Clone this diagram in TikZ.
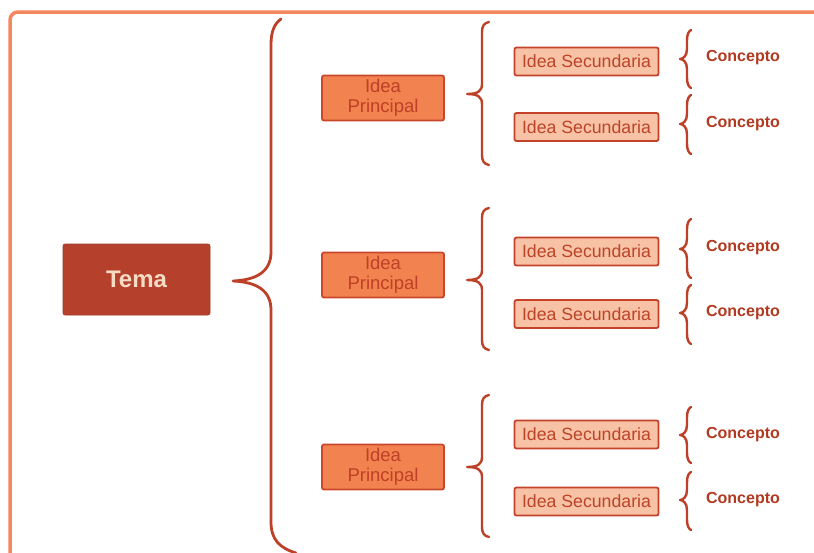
\documentclass[tikz,border=0pt]{standalone}
\usepackage{fontspec}
\setmainfont{Liberation Sans}
\definecolor{frameor}{HTML}{F4875E}
\definecolor{temafill}{HTML}{B5412D}
\definecolor{tematext}{HTML}{F6DCC4}
\definecolor{prinfill}{HTML}{F2824F}
\definecolor{prinline}{HTML}{C9472B}
\definecolor{printext}{HTML}{BF4026}
\definecolor{secfill}{HTML}{F7C2A5}
\definecolor{secline}{HTML}{C4412A}
\definecolor{sectext}{HTML}{BC4429}
\definecolor{bracecol}{HTML}{BD4128}
\definecolor{concol}{HTML}{B23A20}
\newcommand{\mybrace}[6]{% xtip, xline, xend, ytop, ymid, ybot
  \draw[bracestyle] (#3,#4) .. controls ({#2+2},{#4+1}) and (#2,{#4+4}) .. (#2,{#4+10})
    -- (#2,{#5-10}) .. controls (#2,{#5-3}) and ({#2-4},#5) .. (#1,#5)
    .. controls ({#2-4},#5) and (#2,{#5+3}) .. (#2,{#5+10})
    -- (#2,{#6-10}) .. controls (#2,{#6-4}) and ({#2+2},{#6-1}) .. (#3,#6);}
\tikzset{
  bracestyle/.style={draw=bracecol, line width=2.4pt, line cap=round, line join=round},
  temabox/.style={fill=temafill, draw=temafill!90!black, line width=0.6pt, rounded corners=2pt,
    minimum width=147pt, minimum height=71pt, inner sep=0pt,
    text=tematext, font=\fontsize{24}{26}\selectfont\bfseries},
  prinbox/.style={fill=prinfill, draw=prinline, line width=1.8pt, rounded corners=2pt,
    minimum width=122pt, minimum height=45pt, inner sep=0pt, align=center,
    text=printext, font=\fontsize{18.5}{20}\selectfont},
  secbox/.style={fill=secfill, draw=secline, line width=1.8pt, rounded corners=2pt,
    minimum width=144pt, minimum height=28pt, inner sep=0pt,
    text=sectext, font=\fontsize{17.7}{20}\selectfont},
  conbox/.style={text=concol, font=\fontsize{16}{18}\selectfont\bfseries, inner sep=0pt}
}
\begin{document}
\begin{tikzpicture}[x=1pt,y=-1pt]
\useasboundingbox (0,0) rectangle (814,552);
\fill[white] (0,0) rectangle (814,552);
% frame
\draw[frameor, line width=3.5pt, rounded corners=8pt] (820,12) -- (10,12) -- (10,560);
% tema
\node[temabox] (tema) at (136.5,279.5) {Tema};
% big brace
\draw[bracestyle, line width=2.8pt] (281,19) .. controls (274,24) and (271,32) .. (271,45)
  -- (271,252) .. controls (271,272) and (256,280) .. (233,281)
  .. controls (256,282) and (271,290) .. (271,310)
  -- (271,522) .. controls (271,540) and (280,548) .. (296,553);
% principal ideas
\node[prinbox] (p1) at (383,98) {Idea\\Principal};
\node[prinbox] (p2) at (383,275) {Idea\\Principal};
\node[prinbox] (p3) at (383,467) {Idea\\Principal};
% medium braces
\mybrace{467}{482}{489}{22}{94}{165}
\mybrace{467}{482}{489}{208}{280}{350}
\mybrace{467}{482}{489}{395}{467}{537}
% secondary ideas
\node[secbox] (s1) at (586.5,61.5) {Idea Secundaria};
\node[secbox] (s2) at (586.5,127) {Idea Secundaria};
\node[secbox] (s3) at (586.5,251.5) {Idea Secundaria};
\node[secbox] (s4) at (586.5,314) {Idea Secundaria};
\node[secbox] (s5) at (586.5,434.5) {Idea Secundaria};
\node[secbox] (s6) at (586.5,501.5) {Idea Secundaria};
% small braces
\mybrace{680}{687}{691}{30}{59}{88}
\mybrace{680}{687}{691}{95}{124}{154}
\mybrace{680}{687}{691}{219}{249}{278}
\mybrace{680}{687}{691}{285}{313}{344}
\mybrace{680}{687}{691}{407}{435}{463}
\mybrace{680}{687}{691}{472}{500}{530}
% concepts
\node[conbox] (c1) at (743,58) {Concepto};
\node[conbox] (c2) at (743,124) {Concepto};
\node[conbox] (c3) at (743,248) {Concepto};
\node[conbox] (c4) at (743,313) {Concepto};
\node[conbox] (c5) at (743,435) {Concepto};
\node[conbox] (c6) at (743,500) {Concepto};
\end{tikzpicture}
\end{document}
